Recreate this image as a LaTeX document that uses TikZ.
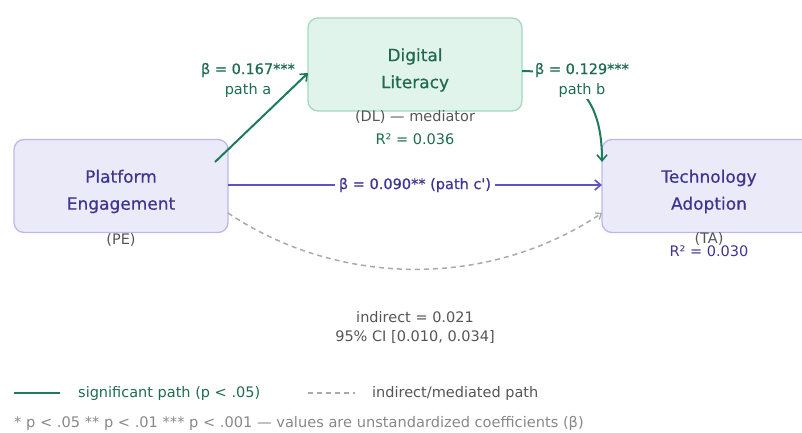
\documentclass[tikz,border=0pt]{standalone}
\usepackage{fontspec}
\setmainfont{DejaVu Sans}
\newfontfamily\medfont{DejaVu Sans}[FakeBold=0.5]
\usetikzlibrary{arrows.meta}
\definecolor{gtext}{HTML}{1F6B52}
\definecolor{garrow}{HTML}{1E7A5C}
\definecolor{gfill}{HTML}{E1F4EB}
\definecolor{gborder}{HTML}{A3D9C2}
\definecolor{ptext}{HTML}{3D3590}
\definecolor{parrow}{HTML}{5E53C6}
\definecolor{pfill}{HTML}{EBEAF9}
\definecolor{pborder}{HTML}{BCB8EC}
\definecolor{graytext}{HTML}{555555}
\definecolor{graydash}{HTML}{AAAAAA}
\definecolor{footgray}{HTML}{888888}
\tikzset{
  boxbase/.style={draw, line width=1.3pt, rounded corners=10pt, minimum width=214pt, minimum height=93pt, inner sep=0pt},
  gbox/.style={boxbase, fill=gfill, draw=gborder},
  pbox/.style={boxbase, fill=pfill, draw=pborder},
  titletext/.style={align=center, font=\medfont\fontsize{17}{27}\selectfont, inner sep=0pt},
  elabel/.style={align=center, font=\fontsize{14.5}{20}\selectfont, fill=white, inner sep=2pt},
  smalltext/.style={align=center, font=\fontsize{14.5}{20}\selectfont, inner sep=0pt},
  tip/.style={-{Straight Barb[length=6pt,width=10pt,line width=1.6pt]}},
  garr/.style={draw=garrow, line width=2pt, tip},
  parr/.style={draw=parrow, line width=2pt, tip},
  darr/.style={draw=graydash, line width=1.5pt, dash pattern=on 5pt off 4pt, -{Straight Barb[length=5pt,width=8pt,line width=1.2pt]}},
}
\begin{document}
\begin{tikzpicture}[x=1pt,y=-1pt]
\useasboundingbox (0,0) rectangle (802,432);
\clip (0,0) rectangle (802,432);
% boxes
\node[gbox] (DL) at (415,64.5) {};
\node[pbox] (PE) at (121,186) {};
\node[pbox] (TA) at (709,186) {};
\node[titletext, text=gtext] (DLt) at (415,70) {Digital\\Literacy};
\node[titletext, text=ptext] (PEt) at (121,191.5) {Platform\\Engagement};
\node[titletext, text=ptext] (TAt) at (709,191.5) {Technology\\Adoption};
% sub labels
\node[smalltext, text=graytext] (DLs) at (415,117) {(DL) — mediator};
\node[smalltext, text=gtext] (DLr) at (415,139) {R² = 0.036};
\node[smalltext, text=graytext] (PEs) at (121,240) {(PE)};
\node[smalltext, text=graytext] (TAs) at (709,239) {(TA)};
\node[smalltext, text=ptext] (TAr) at (709,251) {R² = 0.030};
% connector anchors
\coordinate (aS) at (215,162);
\coordinate (aE) at (308,73);
\coordinate (bS) at (522,71);
\coordinate (bE) at (602,162);
\coordinate (cS) at (228,185);
\coordinate (cE) at (602,185);
\coordinate (dS) at (228,213);
\coordinate (dE) at (602,213);
% arrows
\draw[garr] (aS) -- (aE);
\draw[garr] (bS) .. controls (585,71) and (602,110) .. (bE);
\draw[darr] (dS) .. controls (340,288) and (490,288) .. (dE);
\draw[parr] (cS) -- node[elabel, text=ptext, inner xsep=4pt] (cL) {{\medfont β = 0.090** (path c')}} (cE);
% edge labels
\node[smalltext, text=gtext] (aL) at (248,80) {{\medfont β = 0.167***}\\path a};
\node[elabel, text=gtext] (bL) at (582,80) {{\medfont β = 0.129***}\\path b};
% indirect
\node[smalltext, text=graytext, font=\fontsize{14.5}{19}\selectfont] (ind) at (415,327) {indirect = 0.021\\95\% CI [0.010, 0.034]};
% legend
\coordinate (l1a) at (14,393);
\coordinate (l1b) at (60,393);
\coordinate (l2a) at (308,393);
\coordinate (l2b) at (355,393);
\draw[draw=garrow, line width=2pt] (l1a) -- (l1b);
\node[smalltext, text=gtext, anchor=west] (leg1) at (78,393) {significant path (p < .05)};
\draw[draw=graydash, line width=1.5pt, dash pattern=on 5pt off 4pt] (l2a) -- (l2b);
\node[smalltext, text=graytext, anchor=west] (leg2) at (372,393) {indirect/mediated path};
\node[anchor=west, inner sep=0pt, text=footgray, font=\fontsize{14.6}{17}\selectfont] (foot) at (14,423) {* p < .05 ** p < .01 *** p < .001 — values are unstandardized coefficients (β)};
\end{tikzpicture}
\end{document}
